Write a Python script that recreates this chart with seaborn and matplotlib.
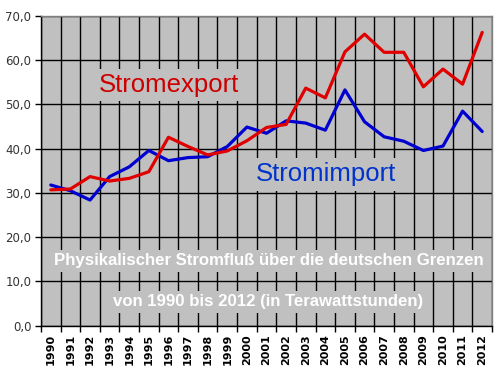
import matplotlib
matplotlib.use("Agg")
import matplotlib.pyplot as plt
import seaborn as sns
import pandas as pd
import numpy as np
from matplotlib.ticker import FixedLocator

years = [str(y) for y in range(1990, 2013)]
export_vals = [30.7, 30.9, 33.7, 32.7, 33.3, 34.8, 42.6, 40.5, 38.6, 39.5, 41.8, 44.8,
               45.5, 53.7, 51.5, 61.9, 65.9, 61.8, 61.8, 54.0, 58.0, 54.6, 66.3]
import_vals = [31.8, 30.5, 28.4, 33.7, 35.9, 39.6, 37.3, 38.0, 38.2, 40.5, 44.9, 43.5,
               46.3, 45.8, 44.2, 53.3, 46.1, 42.7, 41.7, 39.6, 40.6, 48.5, 43.9]
y_ticks = [0, 10, 20, 30, 40, 50, 60, 70]

sns.set_style("white")
plt.rcParams['font.family'] = ['Liberation Sans', 'DejaVu Sans']

df = pd.DataFrame({
    "pos": list(range(len(years))) * 2,
    "value": import_vals + export_vals,
    "series": ["Stromimport"] * len(years) + ["Stromexport"] * len(years),
})

fig = plt.figure(figsize=(5, 3.76), dpi=100)
ax = fig.add_axes([0.082, 0.1338, 0.902, 0.8236])
ax.set_facecolor("#C0C0C0")

sns.lineplot(data=df, x="pos", y="value", hue="series",
             palette={"Stromimport": "#0000D0", "Stromexport": "#E00000"},
             linewidth=2.3, ax=ax, legend=False, zorder=5)

n = len(years)
ax.set_xlim(-0.5, n - 0.5)
ax.set_ylim(0, 70)
ax.set_xticks(range(n))
ax.set_xticklabels(years, rotation=90, fontsize=8, fontweight="bold",
                   family="DejaVu Sans", color="#000000")
ax.xaxis.set_minor_locator(FixedLocator(np.arange(-0.5, n, 1.0)))
ax.tick_params(axis="x", which="major", length=0, pad=6)
ax.tick_params(axis="x", which="minor", length=4, width=1, color="#000000", direction="out", bottom=True)
ax.set_yticks(y_ticks)
ax.set_yticklabels([f"{v:.1f}".replace(".", ",") for v in y_ticks], fontsize=8.5,
                   family="DejaVu Sans", color="#333333")
ax.tick_params(axis="y", length=4, width=1, color="#000000", direction="out", left=True, pad=3)

ax.grid(False)
ax.xaxis.grid(True, which="minor", color="#000000", linewidth=1)
ax.yaxis.grid(True, which="major", color="#000000", linewidth=1)
ax.set_axisbelow(True)
ax.set_xlabel("")
ax.set_ylabel("")

for side in ["top", "right"]:
    ax.spines[side].set_color("#808080")
    ax.spines[side].set_linewidth(1)
for side in ["left", "bottom"]:
    ax.spines[side].set_color("#000000")
    ax.spines[side].set_linewidth(1)

lbox = dict(facecolor="#C0C0C0", edgecolor="none", pad=3)
ax.text(2.45, 54.4, "Stromexport", color="#CC0000", fontsize=18.5, ha="left", va="center",
        bbox=lbox, zorder=4)
ax.text(10.45, 34.2, "Stromimport", color="#0033CC", fontsize=18.5, ha="left", va="center",
        bbox=lbox, zorder=4)

box = dict(facecolor="#C0C0C0", edgecolor="none", pad=2.5)
ax.text(11.1, 14.7, "Physikalischer Stromfluß über die deutschen Grenzen", color="white",
        fontsize=12.1, fontweight="bold", ha="center", va="center", bbox=box, zorder=4)
ax.text(11.1, 5.4, "von 1990 bis 2012 (in Terawattstunden)", color="white",
        fontsize=12.1, fontweight="bold", ha="center", va="center", bbox=box, zorder=4)

fig.savefig("out.png", dpi=100)
